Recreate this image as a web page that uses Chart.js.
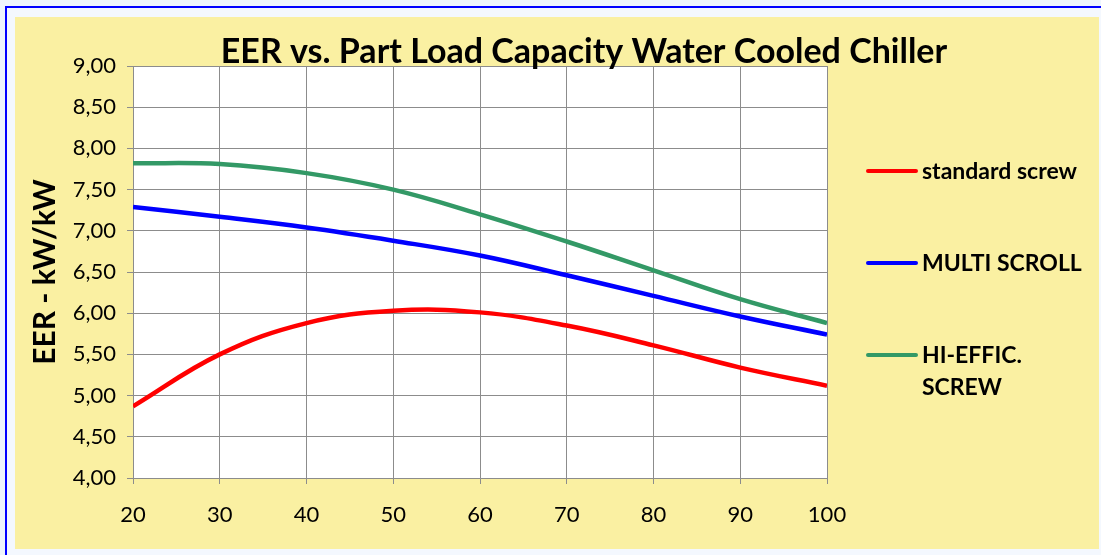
<!DOCTYPE html>
<html>
<head>
<meta charset="utf-8">
<script src="https://cdn.jsdelivr.net/npm/chart.js@4.4.0/dist/chart.umd.min.js"></script>
<style>
  body { margin: 0; background: #eef5fd; width: 1101px; height: 555px; overflow: hidden; }
  #frame { position: absolute; left: 5px; top: 6px; width: 1200px; height: 700px;
           border-left: 2px solid #0000ff; border-top: 2px solid #0000ff; background: #f4f8fe; }
  #box { position: absolute; left: 15px; top: 17px; width: 1084px; height: 532px; background: #faf0a2; }
</style>
</head>
<body>
<div id="frame"></div>
<div id="box"><canvas id="eerChart" width="1084" height="532"></canvas></div>
<script>
var capacity = [20, 30, 40, 50, 60, 70, 80, 90, 100];
var standardScrew = [4.87, 5.50, 5.88, 6.03, 6.01, 5.85, 5.61, 5.34, 5.12];
var multiScroll = [7.29, 7.17, 7.04, 6.88, 6.70, 6.46, 6.21, 5.96, 5.74];
var hiEfficScrew = [7.82, 7.81, 7.70, 7.50, 7.20, 6.87, 6.52, 6.17, 5.88];
var seriesNames = ['standard screw', 'MULTI SCROLL', 'HI-EFFIC. SCREW'];
var legendLines = [['standard screw'], ['MULTI SCROLL'], ['HI-EFFIC.', 'SCREW']];
var seriesColors = ['#ff0000', '#0000ff', '#339966'];
var chartTitle = 'EER vs. Part Load Capacity Water Cooled Chiller';

function points(vals) {
    return capacity.map(function (x, i) { return { x: x, y: vals[i] }; });
}

// white plot area
var plotBg = {
    id: 'plotBg',
    beforeDraw: function (chart) {
        var a = chart.chartArea, c = chart.ctx;
        c.save();
        c.fillStyle = '#ffffff';
        c.fillRect(a.left, a.top, a.right - a.left, a.bottom - a.top);
        c.restore();
    }
};

// title and legend drawn beside the plot
var sideText = {
    id: 'sideText',
    afterDraw: function (chart) {
        var a = chart.chartArea, c = chart.ctx;
        c.save();
        c.fillStyle = '#000';
        c.font = 'bold 34px Lato';
        c.textAlign = 'center';
        c.textBaseline = 'alphabetic';
        c.fillText(chartTitle, a.left + 451, a.top - 3);

        c.font = 'bold 23px Lato';
        c.textAlign = 'left';
        c.textBaseline = 'middle';
        chart.data.datasets.forEach(function (ds, i) {
            var y = a.top + 105 + i * 92;
            c.strokeStyle = ds.borderColor;
            c.lineWidth = 4;
            c.lineCap = 'round';
            c.beginPath();
            c.moveTo(a.right + 41, y);
            c.lineTo(a.right + 89, y);
            c.stroke();
            legendLines[i].forEach(function (t, j) {
                c.fillText(t, a.right + 95, y + 1 + j * 32);
            });
        });
        c.restore();
    }
};

var ctx = document.getElementById('eerChart').getContext('2d');

var myChart = new Chart(ctx, {
    type: 'line',
    data: {
        datasets: [
            { label: seriesNames[0], data: points(standardScrew), borderColor: seriesColors[0] },
            { label: seriesNames[1], data: points(multiScroll), borderColor: seriesColors[1] },
            { label: seriesNames[2], data: points(hiEfficScrew), borderColor: seriesColors[2] }
        ]
    },
    options: {
        responsive: false,
        animation: false,
        layout: { padding: { top: 49, left: 12, right: 272, bottom: 0 } },
        elements: {
            line: { borderWidth: 4.5, tension: 0.4, fill: false },
            point: { radius: 0, hoverRadius: 0 }
        },
        plugins: {
            legend: { display: false },
            title: { display: false },
            tooltip: { enabled: false }
        },
        scales: {
            x: {
                type: 'linear',
                min: 20,
                max: 100,
                afterFit: function (s) { s.height = 71; },
                ticks: { stepSize: 10, color: '#000', padding: 18, font: { family: 'Lato', size: 22 } },
                grid: { color: '#8c8c8c', tickLength: 6 },
                border: { color: '#8c8c8c' }
            },
            y: {
                min: 4,
                max: 9,
                afterFit: function (s) { s.width = 106; },
                ticks: {
                    stepSize: 0.5,
                    color: '#000',
                    padding: 11,
                    font: { family: 'Lato', size: 22 },
                    callback: function (v) { return v.toFixed(2).replace('.', ','); }
                },
                grid: { color: '#8c8c8c', tickLength: 6 },
                border: { color: '#8c8c8c' },
                title: {
                    display: true,
                    text: 'EER - kW/kW',
                    color: '#000',
                    padding: 0,
                    font: { family: 'Lato', size: 30, weight: 'bold' }
                }
            }
        }
    },
    plugins: [plotBg, sideText]
});
</script>
</body>
</html>
